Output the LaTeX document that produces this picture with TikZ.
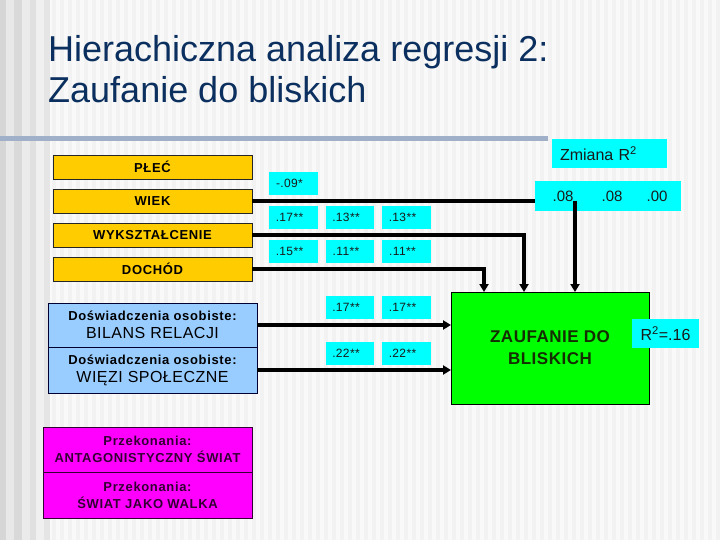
\documentclass[tikz,border=0pt]{standalone}
\usepackage{fontspec}
\setmainfont{Liberation Sans}
\newfontfamily\lsp[LetterSpace=5]{Liberation Sans}
\newfontfamily\lspb[LetterSpace=3]{Liberation Sans}
\usetikzlibrary{arrows.meta,calc}
\definecolor{titleblue}{HTML}{0B2F5E}
\definecolor{barcol}{HTML}{9FB0C8}
\definecolor{bgbase}{HTML}{F2F2F2}
\definecolor{bgstripe}{HTML}{F9F9F9}
\definecolor{boxorange}{HTML}{FFCC00}
\definecolor{boxcyan}{HTML}{00FFFF}
\definecolor{boxblue}{HTML}{99CCFF}
\definecolor{boxmag}{HTML}{FF00FF}
\definecolor{boxgreen}{HTML}{00FF00}
\definecolor{magtext}{HTML}{330033}
\definecolor{greentext}{HTML}{142E00}
\definecolor{numtext}{HTML}{1A1A1A}
\begin{document}
\begin{tikzpicture}[x=1pt,y=-1pt,
  box/.style={anchor=north west,inner sep=0pt,outer sep=0pt,align=center},
  obox/.style={box,draw=black!85,line width=0.8pt,fill=boxorange,minimum width=199pt,minimum height=24pt,font=\fontsize{13}{15}\lsp\bfseries},
  cbox/.style={box,fill=boxcyan,minimum width=49pt,minimum height=23pt,text=numtext,font=\fontsize{12}{14}\lspb,execute at end node={\hspace*{8pt}}},
  bbox/.style={box,draw=black!80!blue,line width=0.8pt,fill=boxblue,minimum width=209pt,font=\fontsize{16}{18}\lspb},
  mbox/.style={box,draw=magtext,line width=0.8pt,fill=boxmag,minimum width=209pt,text=magtext,font=\fontsize{13}{17}\lsp\bfseries},
  conn/.style={line width=3.2pt,line cap=butt},
  arr/.style={conn,-{Triangle[length=8pt,width=9pt]}},
]
\useasboundingbox (0,0) rectangle (720,540);
% background
\fill[bgbase] (0,0) rectangle (720,540);
\foreach \i in {0,...,89} { \fill[bgstripe] (\i*8,0) rectangle (\i*8+4,540); }
\fill[black!16] (0,0) rectangle (6,540);
\fill[black!9] (6,0) rectangle (14,540);
\fill[black!15] (14,0) rectangle (22,540);
\fill[black!8] (22,0) rectangle (30,540);
\fill[black!12] (30,0) rectangle (36,540);
\fill[black!6] (36,0) rectangle (44,540);
\fill[black!10] (44,0) rectangle (50,540);
% title
\node[anchor=base west,inner sep=0pt,text=titleblue,font=\fontsize{36}{41}\selectfont] (t1) at (48,62) {Hierachiczna analiza regresji 2:};
\node[anchor=base west,inner sep=0pt,text=titleblue,font=\fontsize{36}{41}\selectfont] (t2) at (48,103) {Zaufanie do bliskich};
\fill[barcol] (0,136) rectangle (548,141);

% orange predictors
\node[obox] (plec) at (53,155) {PŁEĆ};
\node[obox] (wiek) at (53,189) {WIEK};
\node[obox] (wyk) at (53,223) {WYKSZTAŁCENIE};
\node[obox] (doch) at (53,257) {DOCHÓD};

% blue
\node[bbox,minimum height=44pt] (bil) at (48,303) {{\fontsize{13}{15}\lsp\bfseries Doświadczenia osobiste:}\\BILANS RELACJI};
\node[bbox,minimum height=46pt] (wie) at (48,347) {{\fontsize{13}{15}\lsp\bfseries Doświadczenia osobiste:}\\WIĘZI SPOŁECZNE};

% magenta
\node[mbox,minimum height=45pt] (ant) at (43,427) {Przekonania:\\ANTAGONISTYCZNY ŚWIAT};
\node[mbox,minimum height=46pt] (swi) at (43,472) {Przekonania:\\ŚWIAT JAKO WALKA};

% green
\node[box,draw=black,line width=0.8pt,fill=boxgreen,minimum width=198pt,minimum height=112pt,text=greentext,font=\fontsize{17}{22}\lspb\bfseries] (green) at (451,292) {ZAUFANIE DO\\BLISKICH};

% R2 boxes
\node[box,fill=boxcyan,minimum width=115pt,minimum height=29pt,inner xsep=8pt,text width=99pt,align=left,text=numtext,font=\fontsize{16}{18}\selectfont] (zm) at (552,139) {Zmiana R\textsuperscript{2}};
\node[box,fill=boxcyan,minimum width=146pt,minimum height=30pt] (r08) at (535,181) {};
\node[anchor=center,inner sep=0pt,text=numtext,font=\fontsize{15}{17}\selectfont] (d1) at (563,196) {.08};
\node[anchor=center,inner sep=0pt,text=numtext,font=\fontsize{15}{17}\selectfont] (d2) at (612,196) {.08};
\node[anchor=center,inner sep=0pt,text=numtext,font=\fontsize{15}{17}\selectfont] (d3) at (657,196) {.00};
\node[box,fill=boxcyan,minimum width=67pt,minimum height=29pt,text=numtext,font=\fontsize{16}{18}\selectfont] (r2) at (632,319) {R\textsuperscript{2}=.16};

% coefficient boxes
\node[cbox] (n1) at (269,172) {-.09*};
\node[cbox] (n2) at (269,206) {.17**};
\node[cbox,minimum width=48pt] (n3) at (326,206) {.13**};
\node[cbox] (n4) at (382,206) {.13**};
\node[cbox] (n5) at (269,240) {.15**};
\node[cbox,minimum width=48pt] (n6) at (326,240) {.11**};
\node[cbox] (n7) at (382,240) {.11**};
\node[cbox,minimum width=48pt] (n8) at (326,296) {.17**};
\node[cbox] (n9) at (382,296) {.17**};
\node[cbox,minimum width=48pt] (n10) at (326,342) {.22**};
\node[cbox] (n11) at (382,342) {.22**};

% connectors
\coordinate (c08) at (575,201);
\draw[conn] (wiek.east |- c08) -- (c08 -| r08.west);
\draw[arr] (c08) -- (c08 |- green.north);
\draw[arr] (wyk.east) -| ($(green.north west)+(73,0)$);
\draw[arr] (doch.east) -| ($(green.north west)+(33,0)$);
\draw[arr] (bil.east |- 0,325) -- (green.west |- 0,325);
\draw[arr] (wie.east |- 0,370) -- (green.west |- 0,370);
\end{tikzpicture}
\end{document}
